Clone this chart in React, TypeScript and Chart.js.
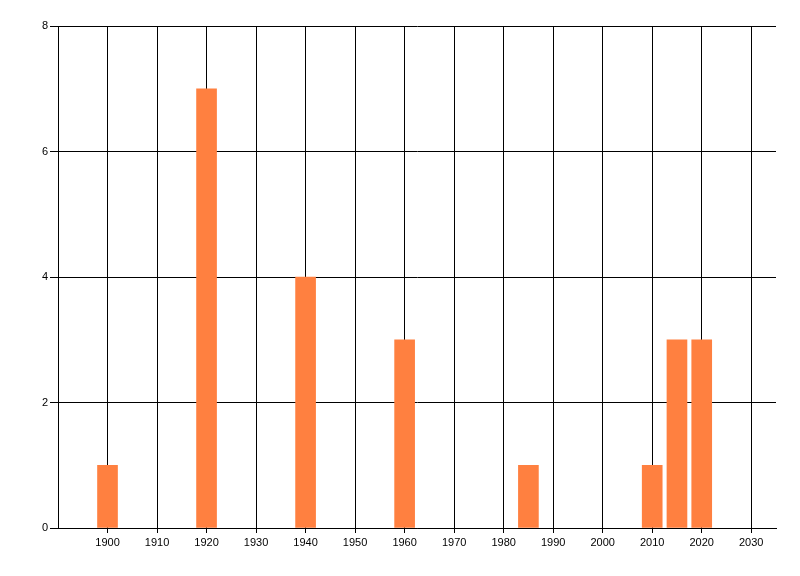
import React, { useEffect, useRef } from "react";
import { Chart, registerables } from "chart.js";

Chart.register(...registerables);

const years = [1900, 1920, 1940, 1960, 1985, 2010, 2015, 2020];
const counts = [1, 7, 4, 3, 1, 1, 3, 3];
const xTickValues = [1900, 1910, 1920, 1930, 1940, 1950, 1960, 1970, 1980, 1990, 2000, 2010, 2020, 2030];
const xMin = 1890;
const xMax = 2035;
const yTickValues = [0, 2, 4, 6, 8];

export default function App() {
  const ref = useRef<HTMLCanvasElement | null>(null);
  useEffect(() => {
    if (!ref.current) return;
    const font = { family: "'Liberation Sans', Arial, sans-serif", size: 11 };
    const chart = new Chart(ref.current, {
      type: "bar",
      data: {
        datasets: [
          {
            data: years.map((y, i) => ({ x: y, y: counts[i] })),
            backgroundColor: "rgb(255,128,64)",
            borderWidth: 0,
            barThickness: 20,
          },
        ],
      },
      options: {
        responsive: false,
        animation: false,
        layout: { padding: { left: 0, right: 24, top: 26, bottom: 0 } },
        plugins: { legend: { display: false }, tooltip: { enabled: false } },
        scales: {
          x: {
            type: "linear",
            min: xMin,
            max: xMax,
            offset: false,
            afterBuildTicks: (s: any) => {
              s.ticks = xTickValues.map((v) => ({ value: v }));
            },
            afterFit: (s: any) => {
              s.height = 48;
            },
            grid: { color: "#000", lineWidth: 1, tickLength: 5, drawTicks: true, offset: false },
            border: { color: "#000", width: 1 },
            ticks: { color: "#000", font, padding: 3, maxRotation: 0, autoSkip: false, callback: (v: any) => String(v) },
          },
          y: {
            min: 0,
            max: 8,
            afterBuildTicks: (s: any) => {
              s.ticks = yTickValues.map((v) => ({ value: v }));
            },
            afterFit: (s: any) => {
              s.width = 58;
            },
            grid: { color: "#000", lineWidth: 1, tickLength: 8, drawTicks: true },
            border: { color: "#000", width: 1 },
            ticks: { color: "#000", font, padding: 2 },
          },
        },
      },
    } as any);
    return () => chart.destroy();
  }, []);
  return (
    <div style={{ position: "absolute", left: 0, top: 0, width: 800, height: 576, background: "#fff" }}>
      <canvas ref={ref} width={800} height={576} style={{ display: "block" }} />
    </div>
  );
}
